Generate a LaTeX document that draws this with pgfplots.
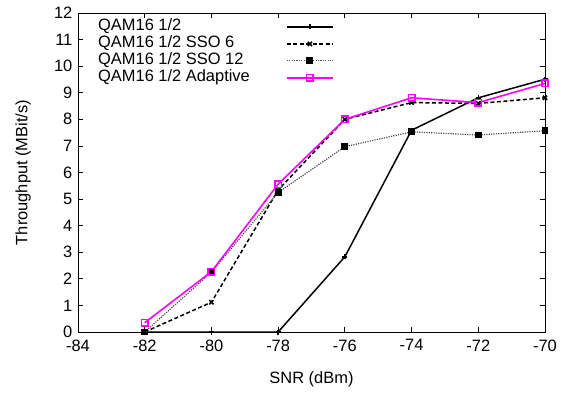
\documentclass[border=0pt]{standalone}
\usepackage{fontspec}
\setmainfont{Liberation Sans}
\usepackage{pgfplots}
\pgfplotsset{compat=1.18}
\definecolor{mag}{RGB}{255,0,255}
\begin{document}
\fontsize{16.5}{19}\selectfont
\begin{tikzpicture}
\begin{axis}[name=ax, scale only axis, width=467bp, height=319bp,
  xmin=-84, xmax=-70, ymin=0, ymax=12,
  xtick={-84,-82,...,-70}, ytick={0,1,...,12},
  tick align=inside, major tick length=5bp,
  tick style={line width=0.8bp, black},
  axis line style={line width=0.8bp},
  /pgf/number format/assume math mode=true,
  xticklabel style={yshift=-2bp},
  xlabel={SNR (dBm)}, ylabel={Throughput (MBit/s)},
  xlabel style={yshift=-9bp},
  ylabel style={yshift=12bp},
  legend plot pos=right, legend cell align=left,
  legend style={draw=none, fill=none, at={(0.0364,0.99)}, anchor=north west,
    row sep=0pt, nodes={inner sep=0pt, text height=12bp, text depth=5bp}},
  legend image code/.code={\path[draw=none] (0bp,0bp) -- (85bp,0bp); \draw[mark repeat=2,mark phase=2,#1] plot coordinates {(37bp,0bp) (60bp,0bp) (83bp,0bp)};},
]
\addplot[black, line width=1.5bp, mark=+, mark size=2.5bp] coordinates {
(-82,0) (-80,0) (-78,0) (-76,2.83) (-74,7.59) (-72,8.81) (-70,9.51)};
\addlegendentry{QAM16 1/2}
\addplot[black, line width=1.5bp, dash pattern=on 4bp off 2.5bp, mark=x, mark size=3bp, mark options={solid}] coordinates {
(-82,0) (-80,1.12) (-78,5.34) (-76,8.0) (-74,8.63) (-72,8.6) (-70,8.81)};
\addlegendentry{QAM16 1/2 SSO 6}
\addplot[black!70, line width=1.2bp, dash pattern=on 1.2bp off 1.2bp, mark=square*, mark size=2.8bp, mark options={solid, black}] coordinates {
(-82,0) (-80,2.25) (-78,5.25) (-76,6.97) (-74,7.53) (-72,7.41) (-70,7.57)};
\addlegendentry{QAM16 1/2 SSO 12}
\addplot[mag, line width=1.6bp, mark=square, mark size=3.2bp, mark options={solid}] coordinates {
(-82,0.35) (-80,2.27) (-78,5.56) (-76,8.0) (-74,8.81) (-72,8.63) (-70,9.35)};
\addlegendentry{QAM16 1/2 Adaptive}
\end{axis}
\path ([xshift=-78bp,yshift=-55bp]ax.south west) rectangle ([xshift=20bp,yshift=13bp]ax.north east);
\end{tikzpicture}
\end{document}
